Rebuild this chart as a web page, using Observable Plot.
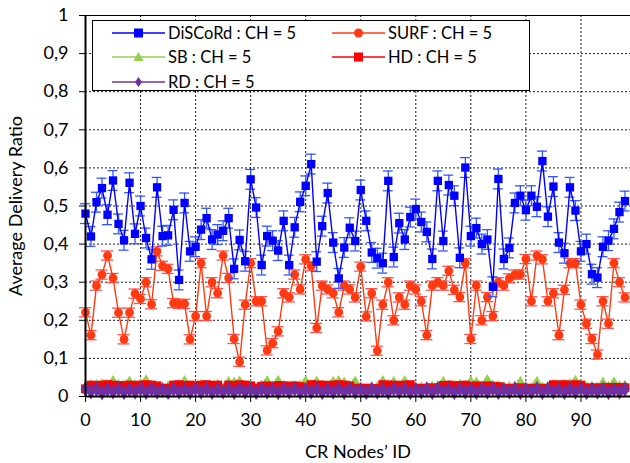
<!DOCTYPE html>
<html>
<head>
<meta charset="utf-8">
<script src="https://cdn.jsdelivr.net/npm/d3@7"></script>
<script src="https://cdn.jsdelivr.net/npm/@observablehq/plot@0.6"></script>
<style>
  html, body { margin: 0; padding: 0; background: #fff; }
  #wrap { position: relative; width: 630px; height: 463px; font-family: Lato, "Open Sans", sans-serif; }
  #legend { position: absolute; left: 92px; top: 20px; width: 438px; height: 71px; border: 1px solid #000; background: #fff; box-sizing: border-box; }
  .entry { position: absolute; height: 20px; display: flex; align-items: center; font-size: 16.5px; color: #000; white-space: nowrap; }
  .entry svg { margin-right: 3px; }
</style>
</head>
<body>
<div id="wrap"></div>
<script>
// ---- data ----
const nodeIds = d3.range(0, 99);
const xTicks = [0, 10, 20, 30, 40, 50, 60, 70, 80, 90];
const yTicks = [0, 0.1, 0.2, 0.3, 0.4, 0.5, 0.6, 0.7, 0.8, 0.9, 1];
const yTickLabels = ["0", "0,1", "0,2", "0,3", "0,4", "0,5", "0,6", "0,7", "0,8", "0,9", "1"];
const seriesNames = ["DiSCoRd : CH = 5", "SURF : CH = 5", "SB : CH = 5", "HD : CH = 5", "RD : CH = 5"];

const discord = [0.48,0.42,0.51,0.547,0.477,0.567,0.453,0.41,0.561,0.427,0.50,0.416,0.36,0.549,0.421,0.423,0.49,0.306,0.508,0.381,
0.393,0.438,0.468,0.412,0.425,0.435,0.468,0.335,0.411,0.355,0.57,0.496,0.345,0.421,0.409,0.383,0.461,0.345,0.444,0.511,
0.553,0.61,0.354,0.447,0.534,0.404,0.31,0.391,0.443,0.408,0.542,0.461,0.378,0.363,0.35,0.566,0.366,0.455,0.412,0.471,
0.492,0.458,0.432,0.361,0.566,0.408,0.555,0.527,0.364,0.601,0.421,0.442,0.40,0.412,0.288,0.571,0.361,0.39,0.508,0.527,
0.489,0.527,0.498,0.618,0.472,0.551,0.404,0.376,0.549,0.488,0.381,0.40,0.321,0.312,0.393,0.409,0.44,0.484,0.513];

const surf = [0.221,0.161,0.291,0.32,0.37,0.311,0.22,0.15,0.22,0.27,0.256,0.30,0.242,0.381,0.343,0.335,0.245,0.243,0.243,0.15,
0.211,0.35,0.211,0.30,0.271,0.37,0.311,0.151,0.091,0.241,0.35,0.25,0.25,0.121,0.14,0.171,0.271,0.26,0.32,0.281,
0.36,0.342,0.18,0.291,0.281,0.271,0.221,0.291,0.281,0.26,0.341,0.21,0.271,0.12,0.241,0.30,0.20,0.26,0.241,0.291,
0.281,0.25,0.161,0.291,0.30,0.291,0.33,0.28,0.261,0.35,0.151,0.291,0.20,0.261,0.211,0.30,0.291,0.31,0.32,0.32,
0.361,0.25,0.37,0.36,0.25,0.271,0.161,0.28,0.35,0.35,0.241,0.191,0.151,0.11,0.25,0.191,0.35,0.30,0.26];

const sb = [0.025,0.028,0.03,0.032,0.03,0.04,0.03,0.029,0.039,0.03,
0.032,0.042,0.028,0.008,0.01,0.026,0.028,0.03,0.04,0.027,
0.026,0.03,0.028,0.027,0.03,0.022,0.038,0.036,0.039,0.028,
0.027,0.02,0.028,0.04,0.027,0.041,0.028,0.026,0.027,0.028,
0.04,0.03,0.039,0.029,0.028,0.038,0.04,0.036,0.028,0.039,
0.022,0.006,0.02,0.025,0.04,0.03,0.038,0.029,0.04,0.026,
0.022,0.024,0.023,0.025,0.027,0.038,0.029,0.028,0.03,0.027,
0.039,0.037,0.027,0.043,0.028,0.027,0.024,0.025,0.026,0.038,
0.024,0.023,0.038,0.024,0.025,0.03,0.031,0.03,0.032,0.041,
0.028,0.024,0.025,0.023,0.036,0.025,0.037,0.026,0.028];

const hd = [0.02,
0.03,0.029,0.03,0.031,0.03,0.029,0.028,0.03,0.029,0.03,0.031,0.03,0.028,
0.021,0.022,
0.03,0.031,0.029,0.03,0.028,0.03,0.031,0.029,0.03,
0.02,
0.03,0.029,0.031,0.03,0.028,
0.022,
0.027,0.028,0.027,0.029,0.028,0.027,0.028,0.026,
0.02,
0.031,0.03,0.03,0.029,0.03,0.031,0.03,0.028,
0.022,0.021,0.022,0.02,0.021,
0.031,0.03,0.03,0.029,0.03,0.031,
0.022,0.021,0.022,0.023,0.022,
0.029,0.03,0.028,0.029,0.03,
0.027,0.028,0.027,0.028,0.027,0.026,
0.022,0.021,0.022,0.023,0.022,0.021,0.022,0.021,0.022,
0.031,0.03,0.031,0.03,0.031,0.03,
0.023,0.022,0.023,0.022,0.024,0.023,0.024,0.023];

const rd = [0.02,0.013,0.019,0.01,0.018,0.012,0.019,0.011,0.018,0.012,0.02,0.011,0.019,0.012,0.017,0.011,0.019,0.012,0.018,0.011,
0.02,0.012,0.019,0.011,0.018,0.012,0.019,0.011,0.02,0.012,0.018,0.011,0.019,0.012,0.018,0.011,0.019,0.012,0.02,0.011,
0.018,0.012,0.019,0.011,0.018,0.012,0.019,0.011,0.02,0.012,0.018,0.011,0.019,0.012,0.018,0.011,0.02,0.012,0.019,0.011,
0.018,0.012,0.019,0.011,0.02,0.012,0.018,0.011,0.019,0.012,0.018,0.011,0.019,0.012,0.02,0.011,0.018,0.012,0.019,0.011,
0.018,0.012,0.02,0.011,0.019,0.012,0.018,0.011,0.019,0.012,0.02,0.011,0.018,0.012,0.019,0.011,0.018,0.012,0.019];

const discordErr = 0.026;
const surfErr = 0.012;
const smallErr = 0.004;

// ---- build tables ----
const rows = (vals, err) => nodeIds.map((id, i) => ({x: id, y: vals[i], lo: vals[i] - err, hi: vals[i] + err}));
const dDisc = rows(discord, discordErr);
const dSurf = rows(surf, surfErr);
const dSb = rows(sb, smallErr);
const dHd = rows(hd, smallErr);
const dRd = rows(rd, smallErr);

const colors = {disc: "#0000FF", discErr: "#3355FF", surf: "#FF3A10", surfErr: "#FF5050", sb: "#92D050", hd: "#FF0000", rd: "#7030A0"};
const capHalf = 0.9;

function errorMarks(data, color, half) {
  return [
    Plot.ruleX(data, {x: "x", y1: "lo", y2: "hi", stroke: color, strokeWidth: 1.3}),
    Plot.ruleY(data, {y: "hi", x1: d => d.x - half, x2: d => d.x + half, stroke: color, strokeWidth: 1.3}),
    Plot.ruleY(data, {y: "lo", x1: d => d.x - half, x2: d => d.x + half, stroke: color, strokeWidth: 1.3})
  ];
}

const chart = Plot.plot({
  width: 630,
  height: 463,
  marginLeft: 85,
  marginRight: 0,
  marginTop: 15,
  marginBottom: 67,
  style: {fontFamily: "Lato, 'Open Sans', sans-serif", fontSize: "18px", color: "#000", background: "#fff", overflow: "visible"},
  x: {domain: [0, 99]},
  y: {domain: [0, 1]},
  marks: [
    Plot.gridY(yTicks.slice(1, -1), {stroke: "#000", strokeOpacity: 0.9, strokeDasharray: "2,2"}),
    Plot.gridX(xTicks.slice(1), {stroke: "#000", strokeOpacity: 0.9, strokeDasharray: "2,2"}),
    Plot.ruleY([1], {stroke: "#000", strokeWidth: 1}),
    // small series
    ...errorMarks(dSb, colors.sb, 0.5),
    Plot.line(dSb, {x: "x", y: "y", stroke: colors.sb, strokeWidth: 1.2}),
    Plot.dot(dSb, {x: "x", y: "y", symbol: "triangle", r: 4, fill: colors.sb, stroke: "none"}),
    ...errorMarks(dHd, colors.hd, 0.5),
    Plot.line(dHd, {x: "x", y: "y", stroke: colors.hd, strokeWidth: 1.2}),
    Plot.dot(dHd, {x: "x", y: "y", symbol: "square", r: 5, fill: colors.hd, stroke: "none"}),
    ...errorMarks(dRd, colors.rd, 0.5),
    Plot.line(dRd, {x: "x", y: "y", stroke: colors.rd, strokeWidth: 2}),
    Plot.dot(dRd, {x: "x", y: "y", symbol: "diamond", r: 4.8, fill: colors.rd, stroke: "none"}),
    // SURF
    ...errorMarks(dSurf, colors.surfErr, 1.1),
    Plot.line(dSurf, {x: "x", y: "y", stroke: colors.surf, strokeWidth: 1.4}),
    Plot.dot(dSurf, {x: "x", y: "y", symbol: "circle", r: 4.4, fill: colors.surf, stroke: "none"}),
    // DiSCoRd
    ...errorMarks(dDisc, colors.discErr, capHalf),
    Plot.line(dDisc, {x: "x", y: "y", stroke: colors.disc, strokeWidth: 1.4}),
    Plot.dot(dDisc, {x: "x", y: "y", symbol: "square", r: 4.7, fill: colors.disc, stroke: "none"}),
    // axes
    Plot.axisY({ticks: yTicks, tickFormat: d => yTickLabels[Math.round(d * 10)], tickSize: 6, tickPadding: 11, fontSize: 18,
      label: "Average Delivery Ratio", labelAnchor: "center", labelOffset: 76, labelArrow: "none"}),
    Plot.axisX({ticks: xTicks, tickSize: 6, tickPadding: 11, fontSize: 18,
      label: "CR Nodes\u2019 ID", labelAnchor: "center", labelOffset: 61, labelArrow: "none"}),
    Plot.ruleX([0], {stroke: "#000", strokeWidth: 2}),
    Plot.ruleY([0], {stroke: "#000", strokeWidth: 2})
  ]
});

const wrap = document.getElementById("wrap");
wrap.appendChild(chart);

// ---- legend (inside plot area, HTML overlay) ----
const legendItems = [
  {name: seriesNames[0], color: colors.disc, symbol: "square", left: 19, top: 2},
  {name: seriesNames[1], color: colors.surf, symbol: "circle", left: 239, top: 2},
  {name: seriesNames[2], color: colors.sb, symbol: "triangle", left: 19, top: 26},
  {name: seriesNames[3], color: colors.hd, symbol: "square", left: 239, top: 26},
  {name: seriesNames[4], color: colors.rd, symbol: "diamond", left: 19, top: 51}
];
const legend = document.createElement("div");
legend.id = "legend";
const symPaths = {
  square: "M-4.5,-4.5h9v9h-9z",
  circle: "M4.5,0A4.5,4.5,0,1,1,-4.5,0A4.5,4.5,0,1,1,4.5,0",
  triangle: "M0,-5L5,4H-5Z",
  diamond: "M0,-5L3.5,0L0,5L-3.5,0Z"
};
for (const it of legendItems) {
  const e = document.createElement("div");
  e.className = "entry";
  e.style.left = it.left + "px";
  e.style.top = it.top + "px";
  e.innerHTML = `<svg width="53" height="14" viewBox="0 0 53 14"><line x1="0" y1="7" x2="53" y2="7" stroke="${it.color}" stroke-width="1.4"/><path transform="translate(26.5,7)" d="${symPaths[it.symbol]}" fill="${it.color}"/></svg><span>${it.name}</span>`;
  legend.appendChild(e);
}
wrap.appendChild(legend);
</script>
</body>
</html>
